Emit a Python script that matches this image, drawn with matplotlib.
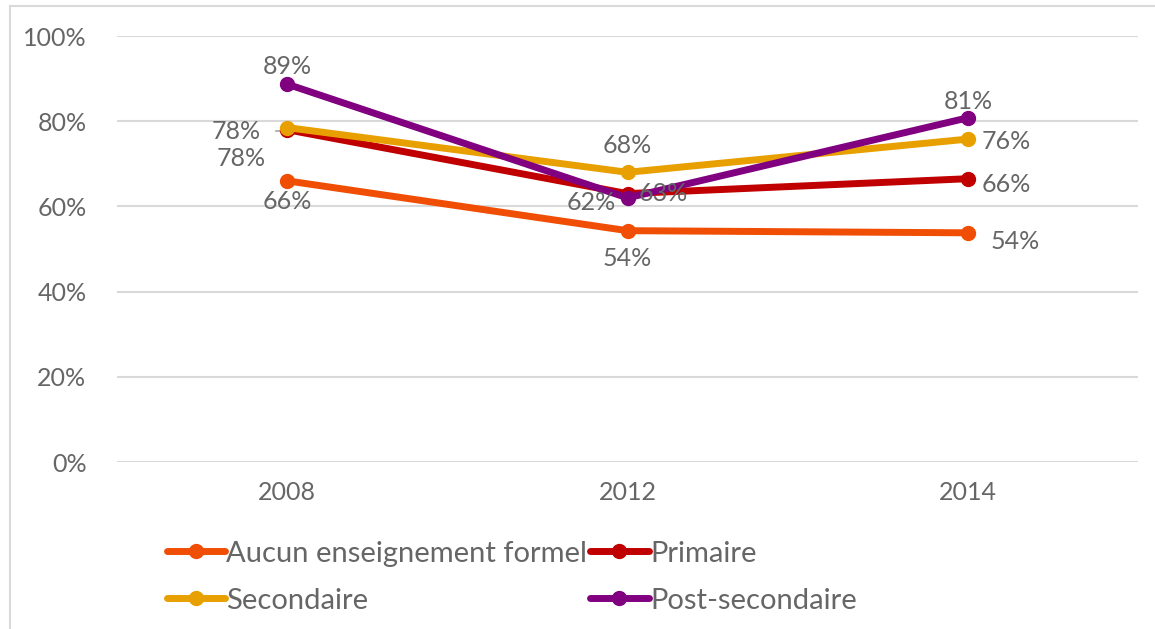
import matplotlib
matplotlib.use("Agg")
import matplotlib.pyplot as plt
from matplotlib.lines import Line2D

plt.rcParams['font.family'] = ['Lato', 'DejaVu Sans']

years = ["2008", "2012", "2014"]
aucun = [0.66, 0.543, 0.538]
primaire = [0.78, 0.63, 0.665]
secondaire = [0.785, 0.68, 0.758]
post_secondaire = [0.887, 0.62, 0.808]

series_names = ["Aucun enseignement formel", "Primaire", "Secondaire", "Post-secondaire"]
series_values = [aucun, primaire, secondaire, post_secondaire]
series_colors = ["#F04E04", "#C00000", "#E8A000", "#800080"]

# data-label offsets (points) per series and per year
label_offsets = [
    [(0, -15, "center", "center"), (0, -20, "center", "center"), (34, -6, "center", "center")],
    [(-33, -21, "center", "center"), (26, 0, "center", "center"), (28, -4, "center", "center")],
    [(-37, -3, "center", "center"), (0, 19, "center", "center"), (28, -2, "center", "center")],
    [(0, 13, "center", "center"), (-26, -3, "center", "center"), (0, 12, "center", "center")],
]

text_color = "#666666"
grid_color = "#D9D9D9"
label_size = 18

fig = plt.figure(figsize=(11.55, 6.29), dpi=100)
ax = fig.add_axes([117 / 1155, 1 - 462 / 629, (1138 - 117) / 1155, (462 - 36) / 629])

x = list(range(len(years)))
handles = []
for name, vals, col, offs in zip(series_names, series_values, series_colors, label_offsets):
    h, = ax.plot(x, vals, color=col, lw=5, marker="o", ms=10, label=name,
                 solid_capstyle="round", zorder=3)
    handles.append(h)
    for xi, v, (dx, dy, ha, va) in zip(x, vals, offs):
        ax.annotate(f"{round(v * 100):.0f}%", (xi, v), xytext=(dx, dy),
                    textcoords="offset points", ha=ha, va=va,
                    fontsize=label_size, color=text_color, zorder=4)

# leader line from the Secondaire 2008 label to its point
ax.plot([-0.033, -0.012], [secondaire[0] - 0.007, secondaire[0] - 0.007],
        color="#A6A6A6", lw=1.2, zorder=2)

ax.set_xlim(-0.5, len(years) - 0.5)
ax.set_ylim(0, 1.0)
ax.set_xticks(x)
ax.set_xticklabels(years)
ax.set_yticks([0, 0.2, 0.4, 0.6, 0.8, 1.0])
ax.set_yticklabels([f"{int(t * 100)}%" for t in ax.get_yticks()])
ax.tick_params(axis="both", length=0, labelsize=label_size, labelcolor=text_color)
ax.tick_params(axis="y", pad=22)
ax.tick_params(axis="x", pad=14)
ax.grid(axis="y", color=grid_color, lw=1.5, zorder=0)
for s in ax.spines.values():
    s.set_visible(False)

# legend: row 1 = Aucun, Primaire ; row 2 = Secondaire, Post-secondaire
order = [0, 2, 1, 3]
leg = fig.legend([handles[i] for i in order], [series_names[i] for i in order],
                 ncol=2, loc="upper left", bbox_to_anchor=(155 / 1155, 1 - 529 / 629),
                 frameon=False, fontsize=21, labelcolor=text_color,
                 handlelength=2.0, handletextpad=0.05, columnspacing=0.1,
                 labelspacing=0.72, borderaxespad=0)

# chart frame (top and left edges)
fig.add_artist(Line2D([10 / 1155, 1.0], [1 - 6 / 629, 1 - 6 / 629], color="#D9D9D9", lw=1.5,
                      transform=fig.transFigure))
fig.add_artist(Line2D([10 / 1155, 10 / 1155], [0, 1 - 6 / 629], color="#D9D9D9", lw=1.5,
                      transform=fig.transFigure))

fig.savefig("out.png", dpi=100)
